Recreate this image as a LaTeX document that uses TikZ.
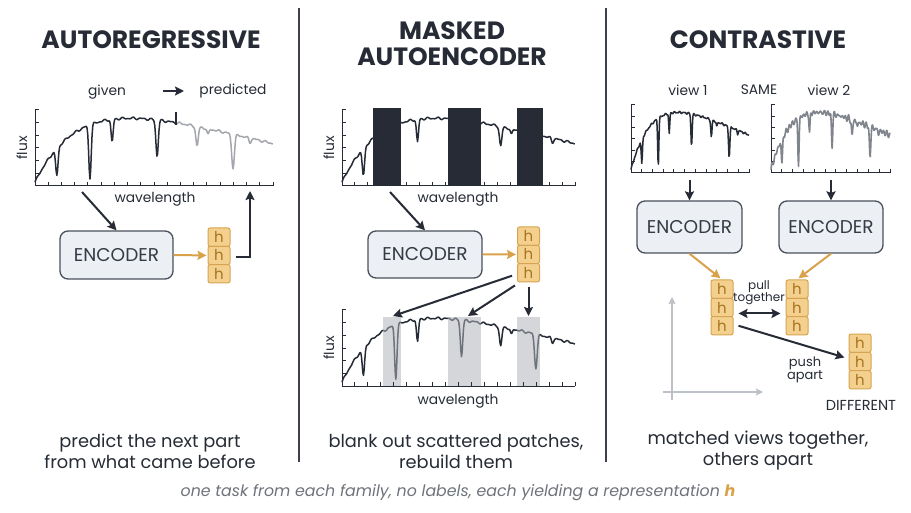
\documentclass[tikz,border=0pt]{standalone}
\usepackage{fontspec}
\setmainfont{Poppins}
\usetikzlibrary{arrows.meta,calc}
\definecolor{ink}{HTML}{262B35}
\definecolor{divc}{HTML}{3C414B}
\definecolor{encf}{HTML}{ECEFF4}
\definecolor{encb}{HTML}{4A505B}
\definecolor{enct}{HTML}{353A45}
\definecolor{gold}{HTML}{D9A24A}
\definecolor{hf}{HTML}{F4D08E}
\definecolor{hb}{HTML}{D6A450}
\definecolor{ht}{HTML}{A87520}
\definecolor{predc}{HTML}{A3A6AB}
\definecolor{bandc}{HTML}{D4D6DA}
\definecolor{inband}{HTML}{6F747C}
\definecolor{noisyc}{HTML}{80848C}
\definecolor{laxc}{HTML}{BCC0C7}
\definecolor{footc}{HTML}{6E737B}

\pgfmathdeclarefunction{dip}{4}{%
  \pgfmathparse{min(abs(#1-(#2))/#3,3)}\let\dipm\pgfmathresult
  \pgfmathparse{#4*exp(-\dipm*\dipm)}}
\pgfmathdeclarefunction{spec}{1}{%
  \pgfmathparse{0.05+1.28*(1-exp(-#1/0.2))*(1-0.6*#1)
   -dip(#1,0.092,0.007,0.36)-dip(#1,0.231,0.007,0.70)-dip(#1,0.324,0.006,0.30)
   -dip(#1,0.513,0.007,0.48)-dip(#1,0.681,0.007,0.26)-dip(#1,0.727,0.006,0.08)
   -dip(#1,0.832,0.008,0.44)-dip(#1,0.903,0.006,0.06)
   +0.010*sin(#1*9000)+0.007*sin(3*mod(#1*5000,360))}}
\pgfmathdeclarefunction{specn}{1}{%
  \pgfmathparse{spec(#1)+0.025*sin(3*mod(#1*4100,360))+0.018*sin(5*mod(#1*2900,360))}}

% style, x0, ybot, w, h, t0, t1, samples, func
\newcommand\spectrum[9]{%
  \draw[#1] plot[domain=#6:#7, samples=#8, variable=\t] ({#2+#4*\t},{#3-#5*#9(\t)});}
% x0, ybot, w, h, nx
\newcommand\frameaxes[5]{%
  \draw[axisline] (#1,#2-#4) -- (#1,#2) -- (#1+#3,#2);
  \foreach \k in {1,...,6} \draw[axisline] (#1,{#2-\k*#4/6}) -- ++(4,0);
  \foreach \k in {1,...,#5} \draw[axisline] ({#1+\k*#3/#5},#2) -- ++(0,-4);}
% name, x, ytop
\newcommand\hstack[3]{%
  \node[hc] (#11) at (#2,#3+9.15) {h};
  \node[hc] (#12) at (#2,#3+27.45) {h};
  \node[hc] (#13) at (#2,#3+45.75) {h};}

\begin{document}
\begin{tikzpicture}[x=1pt,y=-1pt,
  title/.style={font=\fontsize{25}{26}\selectfont\bfseries, text=ink, align=center},
  lab/.style={font=\fontsize{13.8}{15}\selectfont, text=ink, inner sep=1pt},
  small/.style={font=\fontsize{12}{13}\selectfont, text=ink, inner sep=1pt, align=center},
  capt/.style={font=\fontsize{17.8}{21}\selectfont, text=ink, align=center},
  foot/.style={font=\fontsize{15.8}{17}\selectfont\itshape, text=footc},
  enc/.style={draw=encb, fill=encf, line width=1.3pt, rounded corners=8pt,
    minimum width=113pt, minimum height=48pt, inner sep=0pt,
    font=\fontsize{18.5}{20}\selectfont, text=enct},
  hc/.style={draw=hb, fill=hf, line width=1pt, rounded corners=2pt,
    minimum width=22pt, minimum height=18.3pt, inner sep=0pt,
    font=\fontsize{15}{15}\selectfont, text=ht},
  axisline/.style={draw=ink, line width=1pt},
  sp/.style={draw=ink, line width=1.5pt, line join=round},
  spp/.style={draw=predc, line width=1.5pt, line join=round},
  spb/.style={draw=inband, line width=1.5pt, line join=round},
  spn/.style={draw=noisyc, line width=1.6pt, line join=round},
  arr/.style={draw=ink, line width=2pt, -{Stealth[length=9pt,width=9pt,inset=1.5pt]}},
  darr/.style={draw=ink, line width=2pt, {Stealth[length=9pt,width=9pt,inset=1.5pt]}-{Stealth[length=9pt,width=9pt,inset=1.5pt]}},
  garr/.style={draw=gold, line width=2pt, -{Stealth[length=9pt,width=9pt,inset=1.5pt]}},
  lax/.style={draw=laxc, line width=1.4pt, -{Stealth[length=7pt,width=7pt,inset=1pt]}},
  divider/.style={draw=divc, line width=2pt}]
\useasboundingbox (0,0) rectangle (911,513);
\fill[white] (0,0) rectangle (911,513);

% dividers
\draw[divider] (299,8) -- (299,462);
\draw[divider] (606,8) -- (606,462);

% ---------------- Panel 1: autoregressive
\node[title] (t1) at (151,40) {AUTOREGRESSIVE};
\node[lab] (given) at (107,92) {given};
\node[lab] (pred) at (233,91) {predicted};
\coordinate (ga) at (163,91);
\coordinate (gb) at (184,91);
\draw[arr] (ga) -- (gb);
\frameaxes{35}{186}{238}{76}{18}
\spectrum{sp}{35}{186}{238}{76}{0}{0.592}{200}{spec}
\spectrum{spp}{35}{186}{238}{76}{0.592}{1}{140}{spec}
\draw[ink, line width=1.2pt] (176,112) -- (176,125);
\node[lab, rotate=90] (flux1) at (22,148) {flux};
\node[lab] (wl1) at (155,199) {wavelength};
\node[enc] (e1) at (116.5,255) {ENCODER};
\hstack{h1}{219}{228}
\coordinate (a1s) at (82,192);
\draw[arr] (a1s) -- (e1.north);
\draw[garr] (e1.east) -- ([shift={(-1,0)}]h12.west);
\coordinate (a1t) at (250,191);
\draw[arr] ([shift={(5,2)}]h12.east) -| (a1t);
\node[capt] (c1) at (150,451) {predict the next part\\from what came before};

% ---------------- Panel 2: masked autoencoder
\node[title] (t2) at (452,44) {MASKED\\AUTOENCODER};
\frameaxes{342}{186}{233}{76}{18}
\spectrum{sp}{342}{186}{233}{76}{0}{1}{300}{spec}
\fill[ink] (373,108) rectangle (401,186);
\fill[ink] (448,108) rectangle (481,186);
\fill[ink] (517,108) rectangle (543,186);
\node[lab, rotate=90] (flux2) at (329,148) {flux};
\node[lab] (wl2) at (458,199) {wavelength};
\node[enc, minimum width=114pt, minimum height=47pt] (e2) at (425,254.5) {ENCODER};
\coordinate (a2s) at (390,192);
\draw[arr] (a2s) -- (e2.north);
\hstack{h2}{528.5}{227}
\draw[garr] (e2.east) -- ([shift={(-1,0)}]h22.west);
% bottom plot
\fill[bandc] (383,317) rectangle (401,386);
\fill[bandc] (448,317) rectangle (481,386);
\fill[bandc] (517,317) rectangle (540,386);
\coordinate (b1) at (393,316);
\coordinate (b2) at (468,316);
\coordinate (b3) at (528.5,316);
\frameaxes{342}{386}{233}{76}{18}
\spectrum{sp}{342}{386}{233}{76}{0}{0.176}{60}{spec}
\spectrum{spb}{342}{386}{233}{76}{0.176}{0.253}{40}{spec}
\spectrum{sp}{342}{386}{233}{76}{0.253}{0.455}{60}{spec}
\spectrum{spb}{342}{386}{233}{76}{0.455}{0.597}{50}{spec}
\spectrum{sp}{342}{386}{233}{76}{0.597}{0.751}{50}{spec}
\spectrum{spb}{342}{386}{233}{76}{0.751}{0.850}{40}{spec}
\spectrum{sp}{342}{386}{233}{76}{0.850}{1}{50}{spec}
\draw[arr] ([shift={(-5,3)}]h23.west) -- (b1);
\draw[arr] ([shift={(-2,3)}]h23.south west) -- (b2);
\draw[arr] ([shift={(0,5)}]h23.south) -- (b3);
\node[lab, rotate=90] (flux3) at (329,348) {flux};
\node[lab] (wl3) at (458,401) {wavelength};
\node[capt] (c2) at (456,451) {blank out scattered patches,\\rebuild them};

% ---------------- Panel 3: contrastive
\node[title] (t3) at (758,40) {CONTRASTIVE};
\node[lab] (v1) at (688,90) {view 1};
\node[lab] (same) at (759,90) {SAME};
\node[lab] (v2) at (829,90) {view 2};
\frameaxes{631}{173}{118}{68}{11}
\frameaxes{771}{173}{119}{68}{11}
\spectrum{sp}{631}{173}{118}{68}{0}{1}{220}{spec}
\spectrum{spn}{771}{173}{119}{68}{0}{1}{260}{specn}
\coordinate (d1s) at (689.5,180);
\coordinate (d2s) at (831,180);
\node[enc, minimum width=105pt, minimum height=52pt] (e3a) at (689.5,227) {ENCODER};
\node[enc, minimum width=104pt, minimum height=52pt] (e3b) at (831,227) {ENCODER};
\draw[arr] (d1s) -- (e3a.north);
\draw[arr] (d2s) -- (e3b.north);
\hstack{h3a}{722}{280}
\hstack{h3b}{797}{280}
\hstack{h3c}{860}{334}
\draw[garr, shorten >=2pt] (e3a.south) -- (h3a1.north);
\draw[garr, shorten >=2pt] (e3b.south) -- (h3b1.north);
\node[small] (pull) at (759,293) {pull\\[-1pt]together};
\draw[darr] ([shift={(5,6)}]h3a2.east) -- ([shift={(-5,6)}]h3b2.west);
\draw[arr] ([shift={(5,0)}]h3a3.east) -- ([shift={(-4,-4)}]h3c2.west);
\node[small, font=\fontsize{13}{14}\selectfont] (push) at (805,370) {push\\[-1pt]apart};
\node[lab, font=\fontsize{14.5}{15}\selectfont] (diff) at (861,405) {DIFFERENT};
\coordinate (ax0) at (672,400);
\coordinate (ax1) at (672,297);
\coordinate (ay0) at (663,392);
\coordinate (ay1) at (763,392);
\draw[lax] (ax0) -- (ax1);
\draw[lax] (ay0) -- (ay1);
\node[capt] (c3) at (758,451) {matched views together,\\others apart};

% ---------------- footer
\node[foot] (ft) at (458,493) {one task from each family, no labels, each yielding a representation {\bfseries\color{gold}h}};
\end{tikzpicture}
\end{document}
